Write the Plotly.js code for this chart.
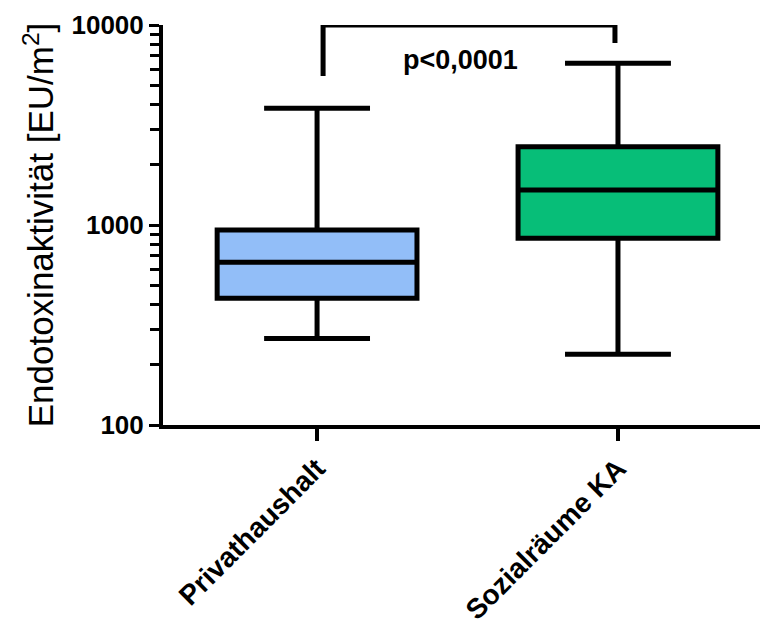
<!DOCTYPE html>
<html>
<head>
<meta charset="utf-8">
<script src="https://cdn.plot.ly/plotly-3.0.1.min.js"></script>
<style>html,body{margin:0;padding:0;background:#fff;}#chart{width:760px;height:630px;}</style>
</head>
<body>
<div id="chart"></div>
<script>
// ---- data ----
const categories = ['Privathaushalt', 'Sozialräume KA'];
const categoryPos = [0, 1];
const lowerFence = [271, 226];
const q1 = [430, 858];
const median = [651, 1496];
const q3 = [944, 2464];
const upperFence = [3833, 6435];
const boxColors = ['#92BEF8', '#07BE78'];

const bracketX = [0.02, 0.02, 0.99, 0.99];
const bracketY = [5560, 10000, 10000, 8130];
const pText = 'p<0,0001';

const yTickVals = [100, 1000, 10000];
const yTickText = ['100', '1000', '10000'];
const yMinorVals = [200,300,400,500,600,700,800,900,2000,3000,4000,5000,6000,7000,8000,9000];

const FONT = 'Liberation Sans, Arial, sans-serif';

const traces = categories.map((c, i) => ({
  type: 'box',
  name: c,
  x: [categoryPos[i]],
  q1: [q1[i]],
  median: [median[i]],
  q3: [q3[i]],
  lowerfence: [lowerFence[i]],
  upperfence: [upperFence[i]],
  boxpoints: false,
  width: 0.664,
  whiskerwidth: 0.53,
  fillcolor: boxColors[i],
  line: {color: '#000', width: 5},
  hoverinfo: 'skip',
  showlegend: false
}));

traces.push({
  type: 'scatter',
  mode: 'lines',
  x: bracketX,
  y: bracketY,
  line: {color: '#000', width: 5},
  cliponaxis: false,
  hoverinfo: 'skip',
  showlegend: false
});

const layout = {
  width: 760,
  height: 630,
  margin: {l: 163, r: 0, t: 25, b: 205, pad: 0},
  paper_bgcolor: '#fff',
  plot_bgcolor: '#fff',
  font: {family: FONT, color: '#000', size: 26},
  showlegend: false,
  xaxis: {
    type: 'linear',
    range: [-0.512, 1.472],
    tickmode: 'array',
    tickvals: categoryPos,
    ticktext: categories,
    tickangle: -45,
    ticks: 'outside',
    ticklen: 12,
    tickwidth: 4,
    tickcolor: '#000',
    showline: true,
    linewidth: 4,
    linecolor: '#000',
    showgrid: false,
    zeroline: false,
    tickfont: {family: FONT, size: 28, weight: 'bold', color: '#000'}
  },
  yaxis: {
    type: 'log',
    range: [2, 4],
    tickmode: 'array',
    tickvals: yTickVals,
    ticktext: yTickText,
    ticks: 'outside',
    ticklen: 10,
    tickwidth: 3,
    tickcolor: '#000',
    showline: true,
    linewidth: 4,
    linecolor: '#000',
    showgrid: false,
    zeroline: false,
    tickfont: {family: FONT, size: 26, weight: 'bold', color: '#000'},
    minor: {tickmode: 'array', tickvals: yMinorVals, ticks: 'outside', ticklen: 9, tickwidth: 3, tickcolor: '#000', showgrid: false},
    title: {text: 'Endotoxinaktivität [EU/m<sup>2</sup>]', font: {family: FONT, size: 35, weight: 'normal', color: '#000'}, standoff: 8}
  },
  annotations: [{
    xref: 'x', yref: 'paper',
    x: 0.475, y: 0.9125,
    text: pText,
    showarrow: false,
    xanchor: 'center', yanchor: 'middle',
    font: {family: FONT, size: 27, weight: 'bold', color: '#000'}
  }]
};

Plotly.newPlot('chart', traces, layout, {staticPlot: true, displayModeBar: false});
</script>
</body>
</html>
